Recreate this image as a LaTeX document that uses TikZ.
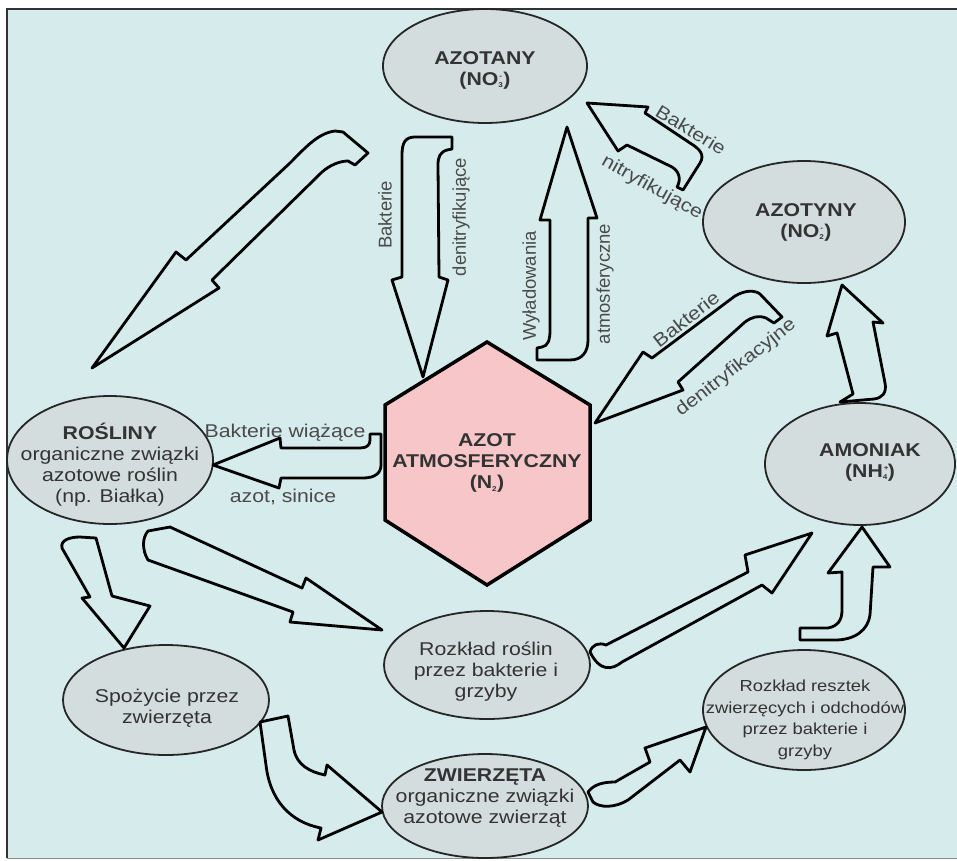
\documentclass[tikz,border=0pt]{standalone}
\usepackage{fontspec}
\setmainfont{Liberation Sans}[FakeStretch=1.15]
\newfontfamily\vfont{Liberation Sans}
\usetikzlibrary{shapes.geometric}
\definecolor{bg}{HTML}{D6ECEC}
\definecolor{ellfill}{HTML}{D3DDDD}
\definecolor{hexfill}{HTML}{F7C6C8}
\definecolor{txt}{HTML}{333333}
\definecolor{lbltxt}{HTML}{4A4A4A}
\newcommand\chemion[2]{\rlap{\textsuperscript{\kern1pt\scriptsize#2}}\textsubscript{\scriptsize#1}}
\tikzset{
  ellbox/.style={ellipse, draw=black!85, line width=1.8pt, fill=ellfill, inner sep=0pt},
  eltext/.style={align=center, text=txt, inner sep=0pt, font=\fontsize{18.5}{21}\selectfont},
  smalltext/.style={align=center, text=txt, inner sep=0pt, font=\fontsize{16}{21.5}\selectfont},
  lbl/.style={text=lbltxt, inner sep=0pt, font=\fontsize{18.5}{21}\selectfont},
  vlbl/.style={text=lbltxt, inner sep=0pt, font=\vfont\fontsize{18.5}{21}\selectfont},
  barrow/.style={draw=black, line width=2.8pt, fill=bg, line join=round}
}
\begin{document}
\begin{tikzpicture}[x=1pt,y=-1pt]
\useasboundingbox (0,0) rectangle (957,860);
\fill[white] (0,0) rectangle (957,860);
\fill[bg] (7,9) rectangle (957,858);
\draw[line width=2pt, black!80] (7,858) -- (7,9) -- (957,9);
\draw[line width=1pt, black!45] (7,858) -- (957,858);

% ellipses
\node[ellbox, minimum width=204pt, minimum height=114pt] (azotany) at (485,66) {};
\node[ellbox, minimum width=202pt, minimum height=122pt] (azotyny) at (804,222) {};
\node[ellbox, minimum width=190pt, minimum height=122pt] (amoniak) at (860,464) {};
\node[ellbox, minimum width=206pt, minimum height=128pt] (rosliny) at (110,460) {};
\node[ellbox, minimum width=206pt, minimum height=108pt] (rozklad) at (487,665) {};
\node[ellbox, minimum width=206pt, minimum height=110pt] (spozycie) at (166,700) {};
\node[ellbox, minimum width=206pt, minimum height=104pt] (zwierzeta) at (485,806) {};
\node[ellbox, minimum width=202pt, minimum height=120pt] (resztki) at (804,710) {};

% hexagon
\draw[line width=3.5pt, fill=hexfill, line join=miter] (487,342) -- (590,405) -- (590,520) -- (487,585) -- (385,520) -- (385,405) -- cycle;
\coordinate (hex) at (487,463);

% block arrows
\draw[barrow] (186,260) -- (290,163) .. controls (305,148) and (318,133) .. (335,131) -- (343,132) -- (368,153) -- (355,165) -- (348,161) .. controls (340,161) and (330,165) .. (322,172) -- (212,280) -- (219,288) -- (92,368) -- (176,252) -- cycle;
\draw[barrow] (402,277) -- (402,155) .. controls (402,143) and (405,137) .. (415,137) -- (452,137) -- (452,149) -- (447,150) .. controls (440,152) and (438,157) .. (438,165) -- (439,277) -- (448,280) -- (423,377) -- (392,280) -- cycle;
\draw[barrow] (567,127) -- (597,218) -- (588,218) -- (588,340) .. controls (588,352) and (582,360) .. (570,360) -- (537,360) -- (537,348) -- (542,347) .. controls (548,346) and (550,340) .. (550,330) -- (550,220) -- (540,220) -- cycle;
\draw[barrow] (587,103) -- (648,107) -- (645,113) -- (690,143) .. controls (700,149) and (705,155) .. (700,163) -- (683,190) -- (677,187) .. controls (681,180) and (680,172) .. (672,167) -- (627,145) -- (618,151) -- cycle;
\draw[barrow] (595,423) -- (643,352) -- (652,358) -- (735,296) .. controls (745,290) and (755,290) .. (760,294) -- (782,317) -- (774,323) -- (766,318) .. controls (758,315) and (752,317) .. (745,322) -- (678,382) -- (683,390) -- cycle;
\draw[barrow] (842,285) -- (883,323) -- (873,322) -- (885,383) .. controls (887,393) and (882,398) .. (874,399) -- (840,402) -- (853,394) -- (837,333) -- (827,336) -- cycle;
\draw[barrow] (213,465) -- (280,438) -- (281,448) -- (360,448) .. controls (367,448) and (370,445) .. (370,440) -- (370,434) -- (381,434) -- (381,465) .. controls (381,473) and (375,478) .. (363,478) -- (281,478) -- (279,488) -- cycle;
\draw[barrow] (62,548) .. controls (60,540) and (70,537) .. (80,537) -- (96,538) -- (112,596) -- (150,606) -- (124,648) -- (82,598) -- (90,597) -- cycle;
\draw[barrow] (148,560) .. controls (142,550) and (142,538) .. (148,531) -- (170,527) -- (302,588) -- (306,578) -- (382,630) -- (290,622) -- (293,612) -- cycle;
\draw[barrow] (590,652) .. controls (592,645) and (598,642) .. (606,645) -- (748,572) -- (745,555) -- (812,533) -- (772,593) -- (762,585) -- (622,662) .. controls (612,670) and (600,672) .. cycle;
\draw[barrow] (862,527) -- (890,567) -- (873,567) -- (870,615) .. controls (868,630) and (855,640) .. (835,640) -- (800,640) -- (800,628) -- (828,628) .. controls (838,626) and (842,620) .. (842,610) -- (842,572) -- (828,573) -- cycle;
\draw[barrow] (260,722) -- (288,716) -- (294,750) .. controls (297,765) and (310,772) .. (325,775) -- (327,765) -- (382,812) -- (318,840) -- (321,828) .. controls (290,822) and (270,800) .. (266,765) -- cycle;
\draw[barrow] (588,792) .. controls (594,784) and (604,782) .. (615,782) -- (650,762) -- (645,748) -- (706,727) -- (690,772) -- (680,760) -- (628,800) .. controls (615,808) and (600,808) .. (593,802) -- cycle;

% texts
\node[eltext] (tAzotany) at (485,70) {\textbf{AZOTANY}\\\textbf{(NO\chemion{3}{-})}};
\node[eltext] (tAzotyny) at (806,222) {\textbf{AZOTYNY}\\\textbf{(NO\chemion{2}{-})}};
\node[eltext] (tAmoniak) at (870,462) {\textbf{AMONIAK}\\\textbf{(NH\chemion{4}{+})}};
\node[eltext] (tRosliny) at (110,465) {\textbf{ROŚLINY}\\organiczne związki\\azotowe roślin\\(np. Białka)};
\node[eltext] (tHex) at (hex) {\textbf{AZOT}\\\textbf{ATMOSFERYCZNY}\\\textbf{(N\textsubscript{\scriptsize 2})}};
\node[eltext] (tRozklad) at (486,672) {Rozkład roślin\\przez bakterie i\\grzyby};
\node[eltext] (tSpozycie) at (167,708) {Spożycie przez\\zwierzęta};
\node[eltext] (tZwierzeta) at (485,798) {\textbf{ZWIERZĘTA}\\organiczne związki\\azotowe zwierząt};
\node[smalltext] (tResztki) at (805,720) {Rozkład resztek\\zwierzęcych i odchodów\\przez bakterie i\\grzyby};

% arrow labels
\node[vlbl, rotate=90] (lB1) at (385,215) {Bakterie};
\node[vlbl, rotate=90] (lD1) at (461,217) {denitryfikujące};
\node[vlbl, rotate=90] (lW) at (531,286) {Wyładowania};
\node[vlbl, rotate=90] (lA) at (605,284) {atmosferyczne};
\node[lbl, rotate=-31] (lB2) at (691,130) {Bakterie};
\node[lbl, rotate=-29] (lN) at (652,188) {nitryfikujące};
\node[lbl, rotate=38] (lB3) at (686,319) {Bakterie};
\node[lbl, rotate=38] (lD2) at (736,368) {denitryfikacyjne};
\node[lbl] (lB4) at (285,433) {Bakterie wiążące};
\node[lbl] (lAz) at (283,497) {azot, sinice};
\end{tikzpicture}
\end{document}
